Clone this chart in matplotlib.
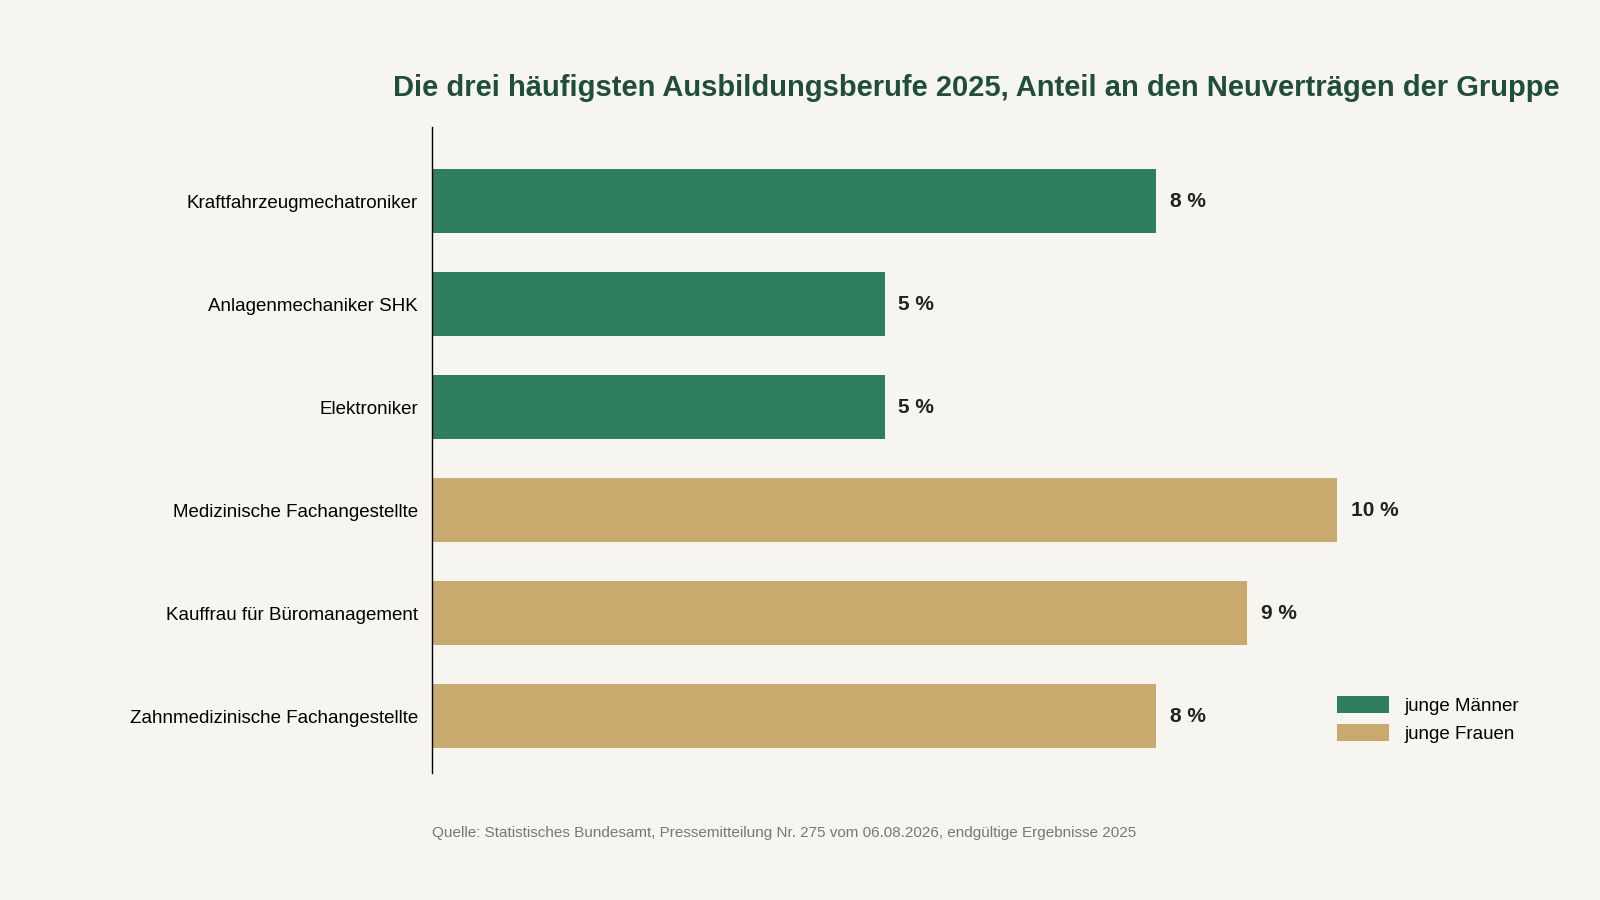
import matplotlib.pyplot as plt
from matplotlib.patches import Patch

berufe = ["Kraftfahrzeugmechatroniker", "Anlagenmechaniker SHK", "Elektroniker",
          "Medizinische Fachangestellte", "Kauffrau für Büromanagement",
          "Zahnmedizinische Fachangestellte"]
anteile = [8, 5, 5, 10, 9, 8]
gruppe = ["m", "m", "m", "f", "f", "f"]

GREEN, TAN, BG = "#2e7f5e", "#c8a96e", "#f6f5f0"
colors = [GREEN if g == "m" else TAN for g in gruppe]

plt.rcParams["font.family"] = ["Liberation Sans", "DejaVu Sans"]
fig = plt.figure(figsize=(16, 9), dpi=100, facecolor=BG)
ax = fig.add_axes([0.270, 0.141, 0.704, 0.718], facecolor=BG)

y = list(range(len(berufe)))
ax.barh(y, anteile, height=0.62, color=colors)
for yi, v in zip(y, anteile):
    ax.text(v + 0.15, yi, f"{v} %", va="center", ha="left", fontsize=15,
            fontweight="bold", color="#222222")

ax.set_yticks(y)
ax.set_yticklabels(berufe, fontsize=13.5)
ax.tick_params(axis="y", length=0, pad=10)
ax.set_xticks([])
ax.set_xlim(0, 12.44)
ax.set_ylim(len(berufe) - 0.45, -0.72)
for s in ["top", "right", "bottom"]:
    ax.spines[s].set_visible(False)
ax.spines["left"].set_linewidth(1)

handles = [Patch(facecolor=GREEN, label="junge Männer"),
           Patch(facecolor=TAN, label="junge Frauen")]
ax.legend(handles=handles, loc="lower right", bbox_to_anchor=(0.98, 0.02),
          frameon=False, fontsize=13.5, handlelength=2.8, handleheight=1.0)

fig.text(0.61, 0.902, "Die drei häufigsten Ausbildungsberufe 2025, Anteil an den Neuverträgen der Gruppe",
         ha="center", va="center", fontsize=21, fontweight="bold", color="#1f4e3d")
fig.text(0.270, 0.074, "Quelle: Statistisches Bundesamt, Pressemitteilung Nr. 275 vom 06.08.2026, endgültige Ergebnisse 2025",
         ha="left", va="center", fontsize=11, color="#777777")

fig.savefig("out.png", dpi=100, facecolor=BG)
